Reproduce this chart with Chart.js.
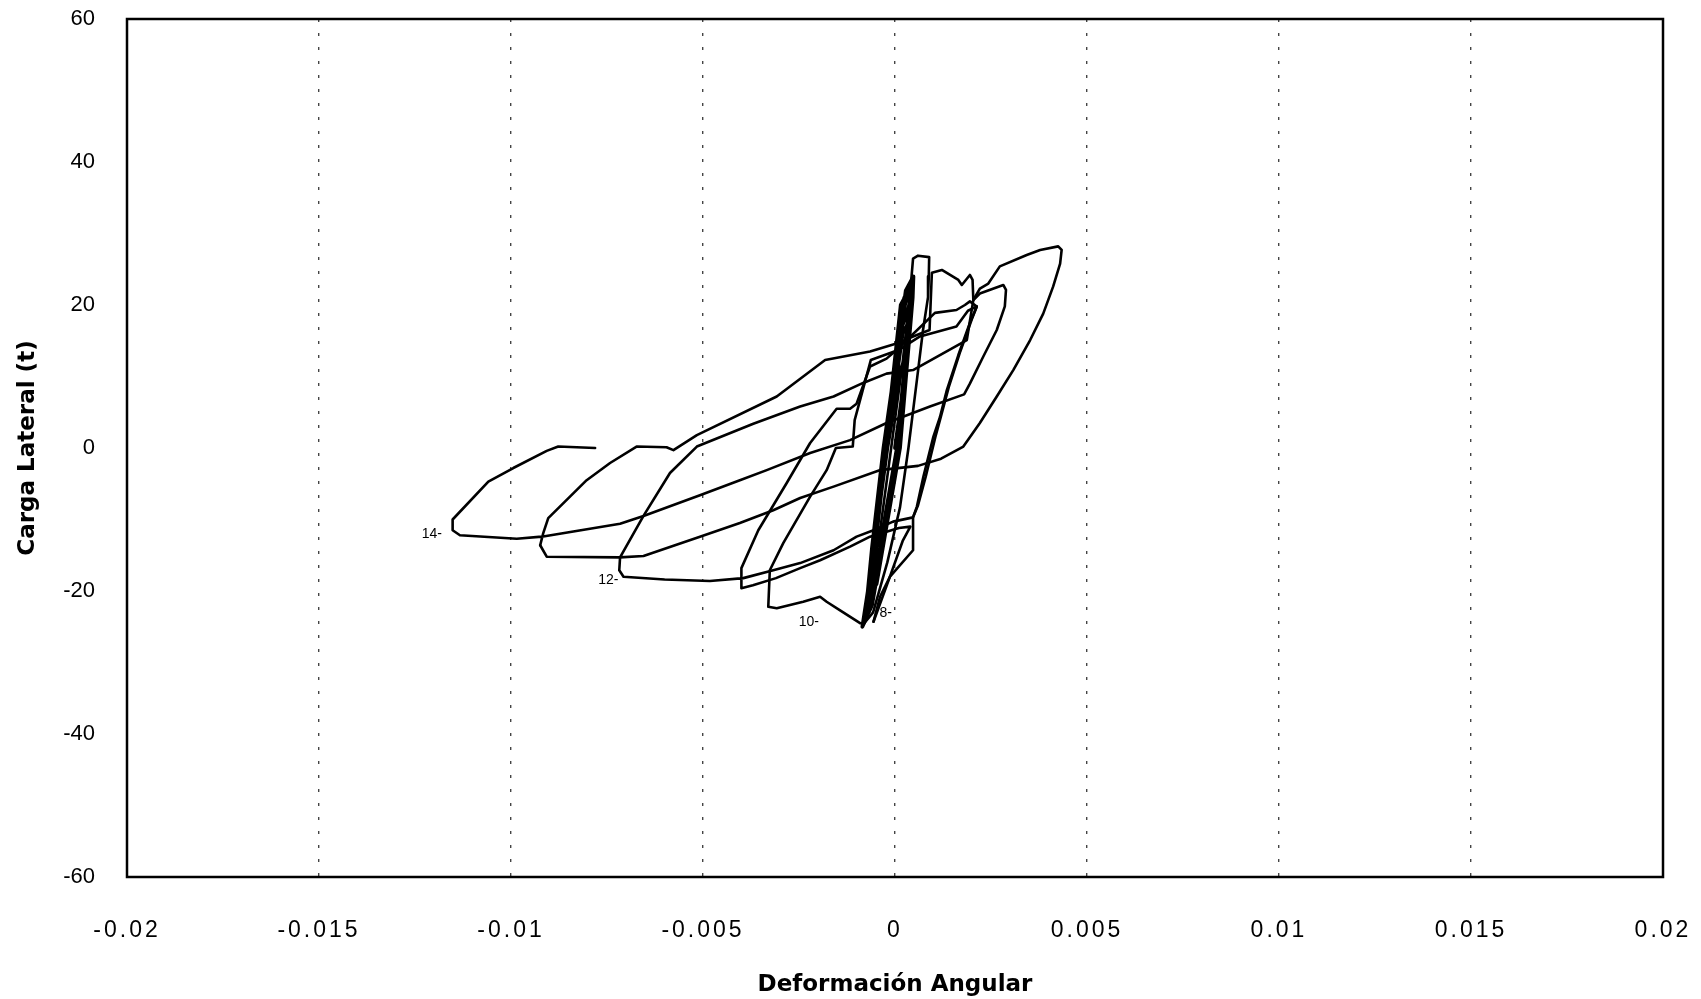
<!DOCTYPE html>
<html>
<head>
<meta charset="utf-8">
<script src="https://cdn.jsdelivr.net/npm/chart.js@4.4.1/dist/chart.umd.min.js"></script>
<style>
  html, body { margin: 0; padding: 0; background: #fff; }
  #wrap { width: 1701px; height: 999px; }
</style>
</head>
<body>
<div id="wrap"><canvas id="loopChart" width="1701" height="999"></canvas></div>
<script>
// --- axis ticks ---
const xTicks = [-0.02, -0.015, -0.01, -0.005, 0, 0.005, 0.01, 0.015, 0.02];
const yTicks = [-60, -40, -20, 0, 20, 40, 60];

// --- hysteresis branches: [drift, load (t)] ---
// cycles 1-8 : the dense band around the origin
const cycles1to8 = [
  [0, 0], [0.0002, 8], [0.0003, 13], [0.00015, 11], [-0.0002, 0], [-0.00045, -10],
  [-0.0005, -13], [-0.0003, -11], [0.0001, 0], [0.00035, 16], [0.0004, 18],
  [0.0002, 16], [-0.00022, 0], [-0.00055, -14], [-0.0006, -18], [-0.00045, -16],
  [0.00012, 0], [0.00042, 19], [0.00045, 21], [0.00022, 18], [-0.00025, 0],
  [-0.0006, -16], [-0.0007, -21], [-0.00048, -19], [0.00013, 0], [0.00046, 21],
  [0.00048, 24], [0.00028, 22], [-0.00028, 0], [-0.00065, -18], [-0.00085, -25],
  [-0.0006, -22], [0.00012, 0], [0.00044, 21], [0.00045, 23], [0.00015, 20],
  [-0.00025, 0], [-0.0007, -21], [-0.00075, -23.5], [-0.0004, -14], [0.00005, 0],
  [0.0004, 20], [0.00044, 23], [0.0002, 19], [-0.0003, 0], [-0.0006, -14],
  [-0.00078, -24], [-0.0005, -18], [0.00008, 0], [0.00038, 17], [0.00042, 20],
  [0.00018, 17], [-0.00015, 2], [-0.00032, -4], [-0.0006, -16], [-0.0007, -22],
  [-0.00042, -17], [0.00003, -2], [0.0001, 2], [0.00036, 18], [0.00041, 22.5],
  [0.00024, 21], [-0.0001, 5], [-0.00027, -2], [-0.00062, -19], [-0.00075, -23.5]
];
const cycle9 = [
  [-0.00075, -23.5], [-0.0004, -12], [-0.0001, 0], [0.0002, 12], [0.0004, 22],
  [0.00047, 26.5], [0.0006, 26.9], [0.00089, 26.7], [0.00088, 24], [0.00086, 21.1],
  [0.00073, 16.5], [0.00057, 9.5], [0.00035, 0], [0.00013, -8.3], [-0.0002, -16],
  [-0.00057, -23], [-0.0008, -24.5]
];
const cycle10 = [
  [-0.0008, -24.5], [-0.00091, -24.5], [-0.00143, -22.7], [-0.00178, -21.5],
  [-0.00195, -20.8], [-0.00239, -21.5], [-0.00308, -22.4], [-0.0033, -22.2],
  [-0.00326, -17.1], [-0.00291, -13.3], [-0.00221, -6.8], [-0.00178, -3.1],
  [-0.00154, 0], [-0.0011, 0.2], [-0.00105, 3.9], [-0.00063, 12.3], [0.00009, 13.7],
  [0.00065, 15.6], [0.0016, 17], [0.0019, 19.2], [0.00213, 19.8], [0.00195, 17.5],
  [0.00165, 13], [0.00135, 8.1], [0.00117, 4.3], [0.001, 1.6], [0.00074, -4],
  [0.00057, -8.2], [0.00047, -9.7], [0.00047, -14.3], [-0.00013, -18],
  [-0.00039, -20.8], [-0.00056, -24.3]
];
const cycle11 = [
  [-0.00056, -24.3], [-0.0002, -19], [0.0002, -13], [0.0004, -11], [0.0001, -11.2],
  [-0.00065, -12.4], [-0.00117, -13.8], [-0.00195, -15.7], [-0.00247, -16.8],
  [-0.0031, -18.2], [-0.0037, -19.2], [-0.004, -19.6], [-0.004, -16.8],
  [-0.00356, -11.5], [-0.00282, -4.9], [-0.00221, 0.7], [-0.00152, 5.5],
  [-0.00117, 5.5], [-0.001, 6.2], [-0.00065, 11.4], [-0.00022, 12.5], [0.00004, 13.7],
  [0.00104, 18.9], [0.0016, 19.3], [0.00182, 20], [0.00195, 20.5], [0.00213, 19.8],
  [0.002, 18], [0.0017, 13.5], [0.0014, 8.5], [0.0012, 4.5], [0.00105, 1.5],
  [0.0008, -4], [0.0006, -8], [0.00047, -9.7], [-0.00005, -10.3], [-0.00056, -11.5],
  [-0.001, -12.4], [-0.0016, -14.3], [-0.00247, -16.1], [-0.00317, -17.1],
  [-0.00395, -18.2], [-0.00482, -18.6], [-0.006, -18.4], [-0.00707, -18.0],
  [-0.00718, -17.1], [-0.00716, -15.3]
];
const cycle12 = [
  [-0.00716, -15.3], [-0.00655, -9.5], [-0.00586, -3.5], [-0.00516, 0.2],
  [-0.00369, 3.4], [-0.00247, 5.8], [-0.0016, 7.2], [-0.00083, 9.1], [-0.00022, 10.4],
  [0.00047, 10.9], [0.00187, 15.1], [0.00204, 20.7], [0.00221, 22.3], [0.00243, 23.0],
  [0.00273, 25.4], [0.00343, 27.0], [0.00378, 27.7], [0.00425, 28.2], [0.00434, 27.7],
  [0.0043, 25.8], [0.00412, 22.6], [0.00386, 18.8], [0.00352, 15.1], [0.00308, 10.9],
  [0.00265, 7.2], [0.00221, 3.5], [0.00178, 0.2], [0.0012, -1.5], [0.0006, -2.5],
  [-0.0004, -3.1], [-0.0016, -5.4], [-0.00247, -7.0], [-0.00317, -8.7],
  [-0.00404, -10.5], [-0.00508, -12.4], [-0.00655, -15.1], [-0.00716, -15.3],
  [-0.00907, -15.2], [-0.00924, -13.6]
];
const cycles13to14 = [
  [-0.00924, -13.6], [-0.00916, -11.9], [-0.00903, -9.8], [-0.00803, -4.5],
  [-0.00742, -2.1], [-0.00673, 0.2], [-0.00595, 0.1], [-0.00577, -0.3],
  [-0.00516, 1.8], [-0.00308, 7.2], [-0.00182, 12.3], [-0.00065, 13.5], [0.00004, 14.6],
  [0.00047, 15.6], [0.0009, 16.5], [0.00096, 24.5], [0.00122, 24.9], [0.00165, 23.5],
  [0.00174, 22.8], [0.00195, 24.2], [0.00202, 23.5], [0.00204, 20.7], [0.00221, 21.6],
  [0.00282, 22.8], [0.00289, 22.1], [0.00286, 19.8], [0.00265, 16.5], [0.0023, 12.8],
  [0.00195, 9.0], [0.0018, 7.5], [0.00091, 5.8], [-0.00022, 3.5], [-0.00117, 1.1],
  [-0.00221, -0.7], [-0.00334, -3.1], [-0.00404, -4.5], [-0.00508, -6.6],
  [-0.00655, -9.5], [-0.00716, -10.6], [-0.0092, -12.4], [-0.00985, -12.7],
  [-0.01133, -12.2], [-0.01152, -11.5], [-0.01152, -10.0], [-0.01059, -4.7],
  [-0.00994, -2.8], [-0.00907, -0.4], [-0.00877, 0.2], [-0.00781, 0]
];

// cycle numbers written next to the negative peaks: [text, drift, load]
const cycleLabels = [
  ['14-', -0.0118, -12.0],
  ['12-', -0.0072, -18.5],
  ['10-', -0.00198, -24.3],
  ['8-', -0.00008, -23.1]
];

const branches = [cycles1to8, cycle9, cycle10, cycle11, cycle12, cycles13to14];

const toPoints = arr => arr.map(p => ({ x: p[0], y: p[1] }));

// frame round the plot area
const framePlugin = {
  id: 'frame',
  afterDatasetsDraw(chart) {
    const { ctx, chartArea: a } = chart;
    ctx.save();
    ctx.strokeStyle = '#000';
    ctx.lineWidth = 2.5;
    ctx.strokeRect(a.left, a.top, a.right - a.left, a.bottom - a.top);
    ctx.restore();
  }
};

// "14-", "12-" ... labels placed through the scales
const cycleLabelPlugin = {
  id: 'cycleLabels',
  afterDatasetsDraw(chart) {
    const { ctx } = chart;
    const xs = chart.scales.x, ys = chart.scales.y;
    ctx.save();
    ctx.font = '14px "Liberation Sans", Arial, sans-serif';
    ctx.fillStyle = '#000';
    ctx.textAlign = 'right';
    ctx.textBaseline = 'middle';
    cycleLabels.forEach(l => {
      ctx.fillText(l[0], xs.getPixelForValue(l[1]), ys.getPixelForValue(l[2]));
    });
    ctx.restore();
  }
};

// the x tick labels in the original are widely spaced
const xSpacingPlugin = {
  id: 'xSpacing',
  beforeDraw(chart) {
    const s = chart.scales.x;
    if (s && !s.__spaced) {
      const orig = s.drawLabels;
      s.drawLabels = function (area) {
        this.ctx.save();
        this.ctx.letterSpacing = '3px';
        orig.call(this, area);
        this.ctx.restore();
      };
      s.__spaced = true;
    }
  }
};

new Chart(document.getElementById('loopChart'), {
  type: 'scatter',
  data: {
    datasets: branches.map((b, i) => ({
      data: toPoints(b),
      showLine: true,
      borderColor: '#000',
      borderWidth: i === 0 ? 3.8 : 2.6,
      borderJoinStyle: 'round',
      borderCapStyle: 'round',
      pointRadius: 0,
      fill: false,
      tension: 0
    }))
  },
  options: {
    responsive: false,
    animation: false,
    layout: { padding: { top: 19, right: 38, left: 0, bottom: 0 } },
    plugins: { legend: { display: false }, tooltip: { enabled: false } },
    scales: {
      x: {
        type: 'linear',
        min: -0.02,
        max: 0.02,
        afterBuildTicks: s => { s.ticks = xTicks.map(v => ({ value: v })); },
        afterFit: s => { s.height = 122; s.paddingLeft = 0; s.paddingRight = 0; },
        grid: { color: '#444', lineWidth: 1.4, drawTicks: false },
        border: { display: false, dash: [3, 11] },
        ticks: {
          padding: 40,
          color: '#000',
          font: { family: '"Liberation Sans", Arial, sans-serif', size: 23 },
          callback: v => String(v)
        },
        title: {
          display: true,
          text: 'Deformación Angular',
          color: '#000',
          font: { family: '"DejaVu Sans", sans-serif', size: 23, weight: 'bold' },
          padding: { top: 0, bottom: 0 }
        }
      },
      y: {
        type: 'linear',
        min: -60,
        max: 60,
        afterBuildTicks: s => { s.ticks = yTicks.map(v => ({ value: v })); },
        afterFit: s => { s.width = 127; s.paddingTop = 0; s.paddingBottom = 0; },
        grid: { display: false, drawTicks: false },
        border: { display: false },
        ticks: {
          padding: 32,
          color: '#000',
          font: { family: '"Liberation Sans", Arial, sans-serif', size: 22 }
        },
        title: {
          display: true,
          text: 'Carga Lateral (t)',
          color: '#000',
          font: { family: '"DejaVu Sans", sans-serif', size: 23, weight: 'bold' },
          padding: { top: 14, bottom: 0 }
        }
      }
    }
  },
  plugins: [xSpacingPlugin, framePlugin, cycleLabelPlugin]
});
</script>
</body>
</html>
